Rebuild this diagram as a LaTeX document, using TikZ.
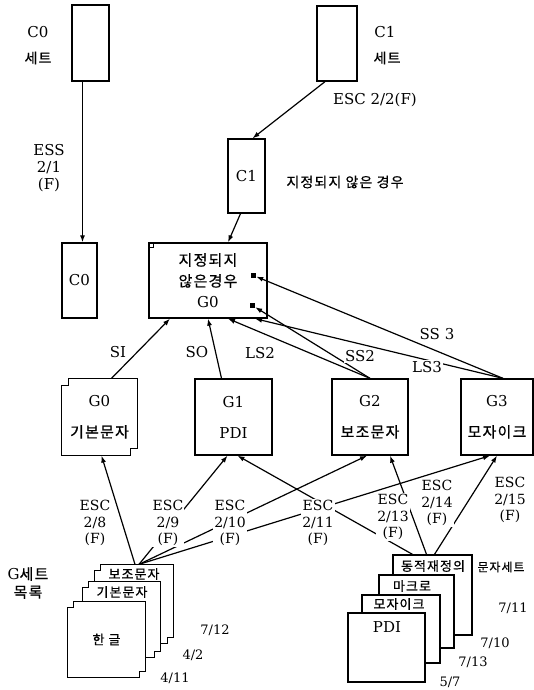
\documentclass[tikz,border=0pt]{standalone}
\usepackage{fontspec}
\setmainfont{DejaVu Serif}
\newfontfamily\kr[LetterSpace=8, FakeBold=0.6]{Noto Sans CJK KR}
\usetikzlibrary{arrows.meta, positioning}

% outline with stepped corners round a node
\newcommand{\stepframe}[2]{%
  \draw[stepline] ([yshift=-#2]#1.north west) -- ([xshift=#2,yshift=-#2]#1.north west)
    -- ([xshift=#2]#1.north west) -- (#1.north east)
    -- ([yshift=#2]#1.south east) -- ([xshift=-#2,yshift=#2]#1.south east)
    -- ([xshift=-#2]#1.south east) -- (#1.south west) -- cycle;}

\begin{document}
\begin{tikzpicture}[x=1pt, y=-1pt,
    box/.style={draw, line width=1.3pt, inner sep=0pt, align=center},
    gbox/.style={box, minimum height=76pt, font=\fontsize{15}{31}\selectfont},
    card/.style={box, fill=white, font=\kr\fontsize{13}{15}\selectfont},
    lbl/.style={font=\fontsize{15}{17}\selectfont, align=center, inner sep=1pt},
    krlbl/.style={font=\kr\fontsize{14}{17}\selectfont, inner sep=1pt},
    esc/.style={font=\fontsize{14}{16.5}\selectfont, align=center, fill=white, inner sep=1pt},
    num/.style={font=\fontsize{13}{15}\selectfont, inner sep=0pt},
    arr/.style={-{Latex[length=7pt,width=5pt]}, line width=1.2pt},
    stepline/.style={line width=1.3pt},
    tip/.style={fill, minimum size=5pt, inner sep=0pt}
]
    \useasboundingbox (0,0) rectangle (534,690);

    % C0 and C1 sets
    \node[box, minimum width=37pt, minimum height=76pt] (c0set) at (90.5,43) {};
    \node[lbl] (c0name) at (38,32) {C0};
    \node[krlbl] (c0word) at (38,58) {세트};
    \node[box, minimum width=40pt, minimum height=75pt] (c1set) at (337,43.5) {};
    \node[lbl] (c1name) at (385,32) {C1};
    \node[krlbl] (c1word) at (387,58) {세트};

    \node[box, minimum width=35pt, minimum height=75pt, font=\fontsize{15}{17}\selectfont] (c0) at (79.5,280.5) {C0};
    \node[box, minimum width=37pt, minimum height=74pt, font=\fontsize{15}{17}\selectfont] (c1) at (246.5,176) {C1};
    \node[krlbl] (c1note) at (345,182) {지정되지 않은 경우};

    % default G0
    \node[box, minimum width=118pt, minimum height=75pt, font=\fontsize{15}{21}\selectfont] (dflt) at (208,280.5)
        {{\kr 지정되지}\\{\kr 않은경우}\\G0};
    \node[draw, line width=0.8pt, minimum size=5pt, inner sep=0pt, anchor=north west] (dmark) at (dflt.north west) {};
    \node[tip] (ss3pt) at (253.5,275.5) {};
    \node[tip] (ss2pt) at (252.5,305.5) {};

    \draw[arr] ([xshift=-8pt]c0set.south) -- ([xshift=-8pt]c0set.south |- c0.north);
    \draw[arr] ([xshift=-12pt]c1set.south) -- ([xshift=6pt]c1.north);
    \draw[arr] ([xshift=-6pt]c1.south) -- ([xshift=20pt]dflt.north);
    \node[lbl] (esslbl) at (49,168) {ESS\\2/1\\(F)};
    \node[lbl] (c1esc) at (375,100) {ESC 2/2(F)};

    % G0..G3
    \node[gbox, draw=none, minimum width=75pt] (g0) at (99.5,417) {G0\\{\kr 기본문자}};
    \stepframe{g0}{7pt}
    \node[gbox, minimum width=77pt] (g1) at (233.5,417) {G1\\PDI};
    \node[gbox, minimum width=76pt] (g2) at (370,417) {G2\\{\kr 보조문자}};
    \node[gbox, minimum width=72pt] (g3) at (497,417) {G3\\{\kr 모자이크}};

    \draw[arr] ([xshift=12pt]g0.north) -- ([xshift=-38pt]dflt.south);
    \draw[arr] ([xshift=-12pt]g1.north) -- (dflt.south);
    \draw[arr] (g2.north) -- ([xshift=20pt]dflt.south);
    \draw[arr] (g2.north) -- (ss2pt);
    \draw[arr] ([xshift=6pt]g3.north) -- ([xshift=47pt]dflt.south);
    \draw[arr] ([xshift=6pt]g3.north) -- (ss3pt);
    \node[lbl] (silbl) at (118,352) {SI};
    \node[lbl] (solbl) at (197,352) {SO};
    \node[lbl] (ls2lbl) at (260,353) {LS2};
    \node[lbl, fill=white] (ss2lbl) at (360,356) {SS2};
    \node[lbl, fill=white] (ls3lbl) at (427,367) {LS3};
    \node[lbl] (ss3lbl) at (437,334) {SS 3};

    % G set list, left stack
    \node[card, draw=none, minimum width=78pt, minimum height=78pt] (lback) at (134,604) {};
    \stepframe{lback}{6pt}
    \node[card, draw=none, minimum width=77pt, minimum height=75pt] (lmid) at (121.5,619.5) {};
    \stepframe{lmid}{6pt}
    \node[card, draw=none, minimum width=77pt, minimum height=75pt] (lfront) at (106.5,639.5) {한 글};
    \stepframe{lfront}{6pt}
    \node[card, draw=none, fill=none] (lbacktxt) at (134,574) {보조문자};
    \node[card, draw=none, fill=none] (lmidtxt) at (122,592) {기본문자};
    \node[lbl, font=\fontsize{15}{18}\selectfont] (glist) at (28,583) {G{\kr 세트}\\{\kr 목록}};
    \node[num] (n712) at (215,630) {7/12};
    \node[num] (n42) at (193,655) {4/2};
    \node[num] (n411) at (175,678) {4/11};

    % right stack
    \node[card, minimum width=79pt, minimum height=80pt] (rback) at (432.5,595) {};
    \node[card, minimum width=75pt, minimum height=73pt] (rmac) at (416.5,611.5) {};
    \node[card, minimum width=78pt, minimum height=68pt] (rmos) at (401,629) {};
    \node[card, minimum width=77pt, minimum height=69pt] (rpdi) at (386.5,647.5) {};
    \node[card, draw=none, fill=none] (rbacktxt) at (433,566) {동적재정의};
    \node[card, draw=none, fill=none] (rmactxt) at (412,586) {마크로};
    \node[card, draw=none, fill=none] (rmostxt) at (399,604) {모자이크};
    \node[lbl] (rpditxt) at (387,627) {PDI};
    \node[krlbl, font=\kr\fontsize{12}{15}\selectfont] (rsetword) at (501,567) {문자세트};
    \node[num] (n711) at (513,608) {7/11};
    \node[num] (n710) at (495,643) {7/10};
    \node[num] (n713) at (473,662) {7/13};
    \node[num] (n57) at (450,682) {5/7};

    % designations
    \draw[arr] ([xshift=1pt]lback.north) -- ([xshift=2pt]g0.south);
    \draw[arr] ([xshift=5pt]lback.north) -- ([xshift=-6pt]g1.south);
    \draw[arr] ([xshift=5pt]lback.north) -- ([xshift=-3pt]g2.south);
    \draw[arr] ([xshift=5pt]lback.north) -- ([xshift=-7pt]g3.south);
    \draw[arr] ([xshift=-20pt]rback.north) -- ([xshift=4pt]g1.south);
    \draw[arr] ([xshift=-6pt]rback.north) -- ([xshift=20pt]g2.south);
    \draw[arr] ([xshift=2pt]rback.north) -- (g3.south);
    \node[esc] (e28) at (95,523) {ESC\\2/8\\(F)};
    \node[esc] (e29) at (168,523) {ESC\\2/9\\(F)};
    \node[esc] (e210) at (230,523) {ESC\\2/10\\(F)};
    \node[esc] (e211) at (318,523) {ESC\\2/11\\(F)};
    \node[esc] (e213) at (393,517) {ESC\\2/13\\(F)};
    \node[esc] (e214) at (437,503) {ESC\\2/14\\(F)};
    \node[esc] (e215) at (510,500) {ESC\\2/15\\(F)};
\end{tikzpicture}
\end{document}
